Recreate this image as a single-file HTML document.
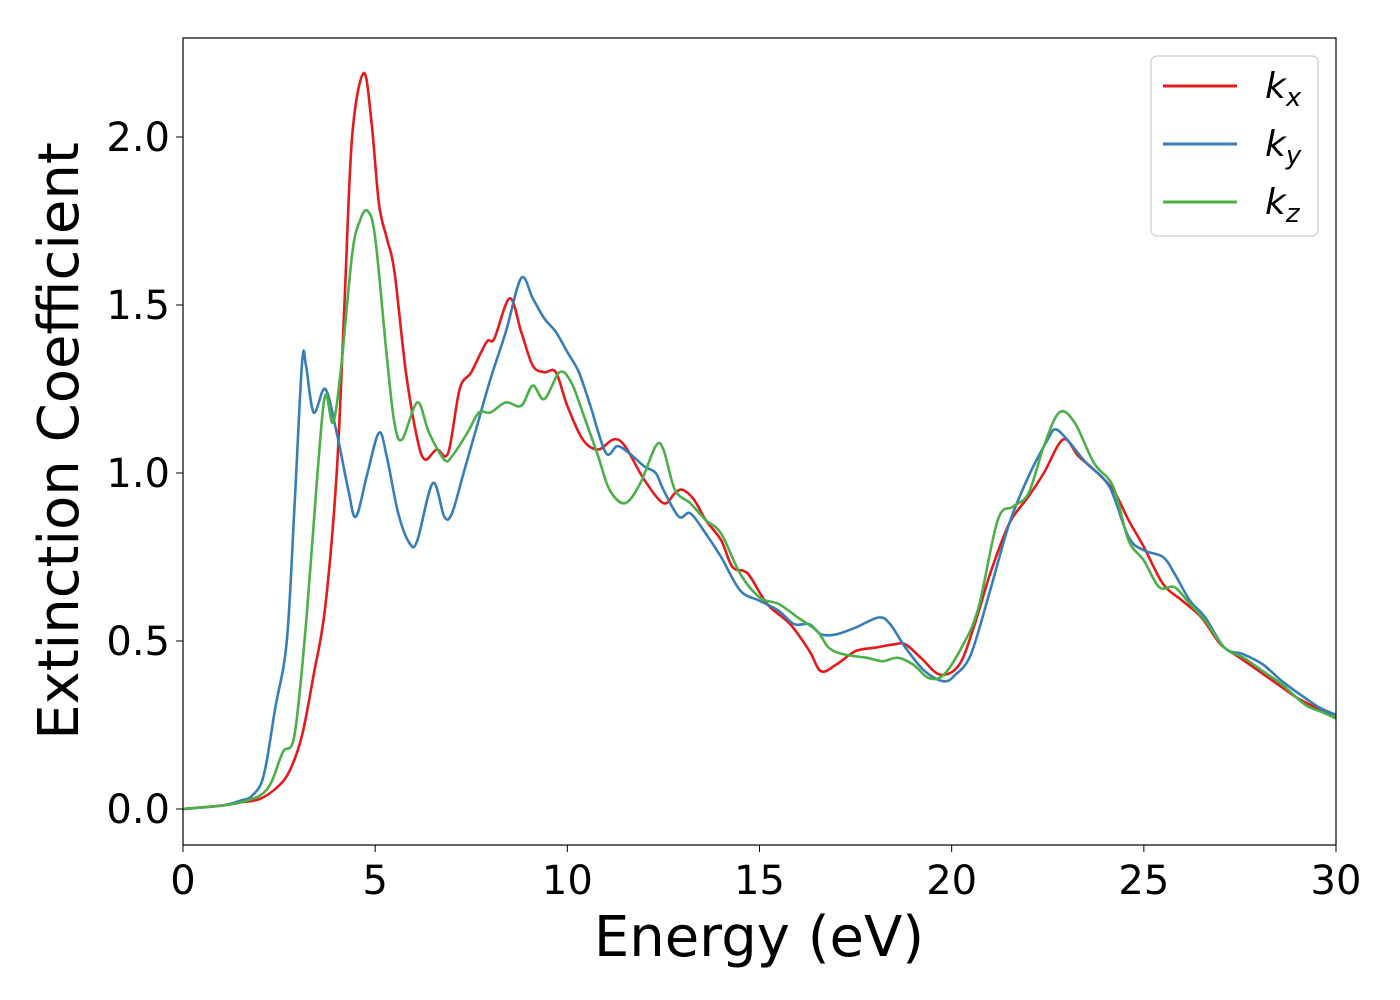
<!DOCTYPE html>
<html><head><meta charset="utf-8"><style>
html,body{margin:0;padding:0;background:#fff;}
svg{display:block;font-family:"DejaVu Sans","Liberation Sans",sans-serif;}
</style></head><body>
<svg id="chart" width="1400" height="1000">
<rect x="0" y="0" width="1400" height="1000" fill="#fff"/>
<g id="series"></g>
<rect x="183" y="38" width="1153" height="807" fill="none" stroke="#000" stroke-width="1.2"/>
<g id="xticks"></g><g id="yticks"></g>
<text x="759" y="956" font-size="56" text-anchor="middle">Energy (eV)</text>
<text transform="translate(78,441) rotate(-90)" font-size="56" text-anchor="middle">Extinction Coefficient</text>
<g>
<rect x="1151" y="56" width="167" height="180" rx="6" fill="#fff" stroke="#ccc" stroke-width="1.2"/>
<g><line x1="1163" y1="86" x2="1237" y2="86" stroke="#e41a1c" stroke-width="3"/><text x="1265" y="98" font-size="36" font-style="italic">k<tspan font-size="26" dy="8">x</tspan></text></g>
<g><line x1="1163" y1="144" x2="1237" y2="144" stroke="#377eb8" stroke-width="3"/><text x="1265" y="156" font-size="36" font-style="italic">k<tspan font-size="26" dy="8">y</tspan></text></g>
<g><line x1="1163" y1="202" x2="1237" y2="202" stroke="#4daf4a" stroke-width="3"/><text x="1265" y="214" font-size="36" font-style="italic">k<tspan font-size="26" dy="8">z</tspan></text></g>
</g>
</svg>
<script>
const xTicks=[0,5,10,15,20,25,30];
const yTicks=[0.0,0.5,1.0,1.5,2.0];
const kxE=[0,1,1.5,2,2.5,2.8,3.1,3.4,3.7,4.0,4.2,4.4,4.7,4.9,5.1,5.3,5.5,5.8,6.1,6.3,6.6,6.9,7.2,7.5,7.9,8.1,8.5,8.8,9.1,9.4,9.7,10.0,10.4,10.8,11.2,11.5,12.0,12.5,12.8,13.0,13.3,13.6,14.0,14.3,14.7,15.2,15.8,16.3,16.6,17.0,17.5,18,18.5,18.8,19.2,19.7,20.2,20.6,21,21.5,22,22.4,22.9,23.3,23.7,24.2,24.6,25.0,25.5,26,26.5,27,27.5,28,28.5,29,29.5,30];
const kxV=[0,0.01,0.02,0.03,0.07,0.12,0.22,0.4,0.6,1.0,1.5,2.0,2.19,2.05,1.8,1.7,1.6,1.3,1.1,1.04,1.07,1.06,1.25,1.3,1.39,1.4,1.52,1.42,1.32,1.3,1.3,1.2,1.1,1.07,1.1,1.08,0.98,0.91,0.94,0.95,0.92,0.86,0.8,0.72,0.7,0.61,0.55,0.47,0.41,0.43,0.47,0.48,0.49,0.49,0.45,0.4,0.43,0.55,0.7,0.85,0.93,1.0,1.1,1.05,1.01,0.95,0.86,0.78,0.67,0.62,0.57,0.49,0.45,0.41,0.37,0.33,0.3,0.27];
const kyE=[0,1,1.5,1.8,2.1,2.4,2.7,2.9,3.1,3.2,3.4,3.7,4.0,4.3,4.5,4.8,5.1,5.3,5.6,5.9,6.1,6.5,6.8,7.0,7.3,7.6,8.0,8.4,8.8,9.1,9.4,9.7,10.0,10.3,10.6,11.0,11.3,11.6,12.0,12.3,12.5,12.9,13.2,13.6,14.0,14.5,15.0,15.5,15.9,16.3,16.6,17.0,17.5,18.1,18.4,18.8,19.3,19.8,20.1,20.5,21,21.5,22,22.5,22.7,23.0,23.5,24.1,24.6,25.0,25.5,25.8,26.2,26.6,27.1,27.6,28.1,28.6,29.2,29.6,30];
const kyV=[0,0.01,0.025,0.04,0.1,0.3,0.5,0.9,1.33,1.32,1.18,1.25,1.12,0.95,0.87,1.0,1.12,1.05,0.88,0.79,0.8,0.97,0.87,0.88,1.0,1.12,1.28,1.42,1.58,1.52,1.46,1.42,1.36,1.3,1.2,1.06,1.08,1.06,1.02,1.0,0.95,0.87,0.88,0.82,0.75,0.65,0.62,0.59,0.55,0.55,0.52,0.52,0.54,0.57,0.55,0.48,0.41,0.38,0.4,0.46,0.65,0.85,0.99,1.1,1.13,1.1,1.03,0.96,0.81,0.77,0.75,0.7,0.62,0.57,0.48,0.46,0.43,0.38,0.33,0.3,0.28];
const kzE=[0,1,1.5,2,2.3,2.6,2.9,3.2,3.5,3.7,3.9,4.1,4.4,4.6,4.8,5.0,5.3,5.5,5.7,6.1,6.4,6.8,7.0,7.4,7.7,8.0,8.4,8.8,9.1,9.4,9.8,10.1,10.4,10.8,11.1,11.5,11.9,12.3,12.5,12.8,13.2,13.6,14.0,14.5,15.0,15.5,16.0,16.5,16.8,17.2,17.8,18.2,18.6,19.0,19.4,19.8,20.3,20.7,21.2,21.6,22,22.4,22.8,23.2,23.7,24.2,24.6,25.0,25.4,25.8,26.2,26.6,27.1,27.6,28.1,28.6,29.2,29.6,30];
const kzV=[0,0.01,0.02,0.04,0.08,0.17,0.22,0.55,1.0,1.23,1.15,1.3,1.65,1.75,1.78,1.7,1.35,1.15,1.1,1.21,1.12,1.04,1.05,1.12,1.18,1.18,1.21,1.2,1.26,1.22,1.3,1.27,1.18,1.05,0.95,0.91,0.97,1.08,1.07,0.95,0.91,0.86,0.82,0.7,0.63,0.61,0.57,0.53,0.48,0.46,0.45,0.44,0.45,0.43,0.39,0.4,0.49,0.6,0.86,0.9,0.94,1.08,1.18,1.15,1.03,0.96,0.8,0.74,0.66,0.66,0.61,0.56,0.48,0.45,0.41,0.37,0.31,0.29,0.27];

const X0=183,X1=1336,Y0=809,YS=336;
function sx(v){return X0+(X1-X0)*v/30;}
function sy(v){return Y0-YS*v;}
const NS='http://www.w3.org/2000/svg';
function path(E,V){
  const p=E.map((e,i)=>[sx(e),sy(V[i])]);
  let d='M'+p[0][0].toFixed(1)+','+p[0][1].toFixed(1);
  for(let i=0;i<p.length-1;i++){
    const a=p[Math.max(0,i-1)],b=p[i],c=p[i+1],n=p[Math.min(p.length-1,i+2)];
    const c1=[b[0]+(c[0]-a[0])/6,b[1]+(c[1]-a[1])/6],c2=[c[0]-(n[0]-b[0])/6,c[1]-(n[1]-b[1])/6];
    d+=' C'+c1[0].toFixed(1)+','+c1[1].toFixed(1)+' '+c2[0].toFixed(1)+','+c2[1].toFixed(1)+' '+c[0].toFixed(1)+','+c[1].toFixed(1);
  }
  return d;
}
const g=document.getElementById('series');
[[kxE,kxV,'#e41a1c','series-kx'],[kyE,kyV,'#377eb8','series-ky'],[kzE,kzV,'#4daf4a','series-kz']].forEach(s=>{
  const el=document.createElementNS(NS,'path');
  el.setAttribute('d',path(s[0],s[1]));
  el.setAttribute('fill','none');el.setAttribute('stroke',s[2]);el.setAttribute('stroke-width','2.6');
  
  
  g.appendChild(el);
});
const xt=document.getElementById('xticks');
xTicks.forEach(t=>{
  const l=document.createElementNS(NS,'line');
  l.setAttribute('x1',sx(t));l.setAttribute('x2',sx(t));l.setAttribute('y1',845);l.setAttribute('y2',852);l.setAttribute('stroke','#000');
  
  
  xt.appendChild(l);
  const tx=document.createElementNS(NS,'text');
  tx.setAttribute('x',sx(t));tx.setAttribute('y',894);tx.setAttribute('font-size','40');tx.setAttribute('text-anchor','middle');
  tx.textContent=t;
  
  
  xt.appendChild(tx);
});
const yt=document.getElementById('yticks');
yTicks.forEach(t=>{
  const l=document.createElementNS(NS,'line');
  l.setAttribute('x1',176);l.setAttribute('x2',183);l.setAttribute('y1',sy(t));l.setAttribute('y2',sy(t));l.setAttribute('stroke','#000');
  
  
  yt.appendChild(l);
  const tx=document.createElementNS(NS,'text');
  tx.setAttribute('x',170);tx.setAttribute('y',sy(t)+14);tx.setAttribute('font-size','40');tx.setAttribute('text-anchor','end');
  tx.textContent=t.toFixed(1);
  
  
  yt.appendChild(tx);
});
</script>
</body></html>
